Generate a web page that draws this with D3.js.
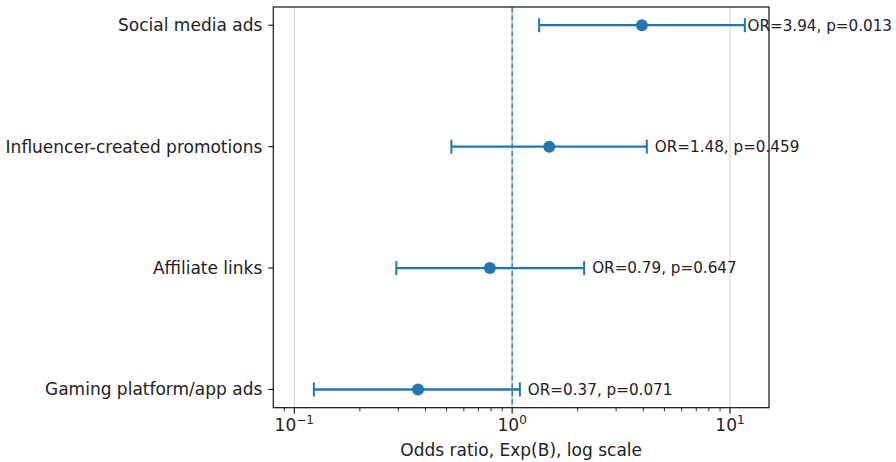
<!DOCTYPE html>
<html><head><meta charset="utf-8">
<script src="https://cdn.jsdelivr.net/npm/d3@7"></script>
<style>body{margin:0;background:#fff}svg{display:block}text{font-family:"DejaVu Sans",sans-serif;fill:#222}</style>
</head><body><svg id="c" width="896" height="462"></svg>
<script>
const categories = ["Social media ads","Influencer-created promotions","Affiliate links","Gaming platform/app ads"];
const oddsRatios = [3.94, 1.48, 0.79, 0.37];
const ciLower = [1.33, 0.526, 0.294, 0.123];
const ciUpper = [11.7, 4.15, 2.14, 1.085];
const pValues = ["0.013","0.459","0.647","0.071"];
const xTickValues = [0.1, 1, 10];
const xTickExponents = ["\u22121","0","1"];

const W=896,H=462, m={l:273.3,r:127,t:7,b:54.3};
const svg=d3.select("#c");
const pw=W-m.l-m.r, ph=H-m.t-m.b;
const g=svg.append("g").attr("transform",`translate(${m.l},${m.t})`);
const x=d3.scaleLog().domain([0.0801,15.1]).range([0,pw]);
const y=d3.scaleLinear().domain([-0.15,3.15]).range([0,ph]);
const col="#1f77b4";

// grid
g.selectAll(".grid").data(xTickValues).join("line")
 .attr("x1",d=>x(d)).attr("x2",d=>x(d)).attr("y1",0).attr("y2",ph)
 .attr("stroke","#d0d0d0").attr("stroke-width",1);
// ref line
g.append("line").attr("x1",x(1)).attr("x2",x(1)).attr("y1",0).attr("y2",ph)
 .attr("stroke",col).attr("stroke-width",1.4).attr("stroke-dasharray","5.5,2.5");

// error bars
const rows=categories.map((c,i)=>({c,i,or:oddsRatios[i],lo:ciLower[i],hi:ciUpper[i],p:pValues[i]}));
const eb=g.selectAll(".eb").data(rows).join("g");
eb.append("line").attr("x1",d=>x(d.lo)).attr("x2",d=>x(d.hi)).attr("y1",d=>y(d.i)).attr("y2",d=>y(d.i)).attr("stroke",col).attr("stroke-width",2.3);
eb.append("line").attr("x1",d=>x(d.lo)).attr("x2",d=>x(d.lo)).attr("y1",d=>y(d.i)-7).attr("y2",d=>y(d.i)+7).attr("stroke",col).attr("stroke-width",2);
eb.append("line").attr("x1",d=>x(d.hi)).attr("x2",d=>x(d.hi)).attr("y1",d=>y(d.i)-7).attr("y2",d=>y(d.i)+7).attr("stroke",col).attr("stroke-width",2);
eb.append("circle").attr("cx",d=>x(d.or)).attr("cy",d=>y(d.i)).attr("r",6).attr("fill",col);
eb.append("text").attr("x",d=>x(d.hi)+8).attr("y",d=>y(d.i)).attr("dy","0.35em")
 .style("font-size","15.2px").text(d=>`OR=${d.or.toFixed(2)}, p=${d.p}`)
 .each(function(d){
   const w=this.getComputedTextLength();
   const maxX=W-m.l-4-w;
   const cur=x(d.hi)+8;
   if(cur>maxX) d3.select(this).attr("x",maxX);
 });

// frame
g.append("rect").attr("width",pw).attr("height",ph).attr("fill","none").attr("stroke","#111").attr("stroke-width",1.2);

// y axis ticks & labels
rows.forEach(d=>{
  g.append("line").attr("x1",-5).attr("x2",0).attr("y1",y(d.i)).attr("y2",y(d.i)).attr("stroke","#111").attr("stroke-width",1.1);
  g.append("text").attr("x",-11).attr("y",y(d.i)).attr("dy","0.35em").attr("text-anchor","end").style("font-size","17px").text(d.c);
});

// x axis ticks
const minor=[];
[0.01,0.1,1,10].forEach(b=>{for(let k=2;k<=9;k++){const v=b*k;if(v>=x.domain()[0]&&v<=x.domain()[1])minor.push(v);}});
g.selectAll(".mt").data(minor).join("line").attr("x1",d=>x(d)).attr("x2",d=>x(d)).attr("y1",ph).attr("y2",ph+3.5).attr("stroke","#111").attr("stroke-width",0.9);
g.selectAll(".Mt").data(xTickValues).join("line").attr("x1",d=>x(d)).attr("x2",d=>x(d)).attr("y1",ph).attr("y2",ph+6).attr("stroke","#111").attr("stroke-width",1.1);
const tl=g.selectAll(".tl").data(xTickValues).join("text").attr("x",d=>x(d)).attr("y",ph+23.5).attr("text-anchor","middle").style("font-size","17px");
tl.append("tspan").text("10");
tl.append("tspan").attr("dy","-7.5").style("font-size","12px").text((d,i)=>xTickExponents[i]);

g.append("text").attr("x",pw/2).attr("y",ph+48).attr("text-anchor","middle").style("font-size","17px").text("Odds ratio, Exp(B), log scale");
</script></body></html>
